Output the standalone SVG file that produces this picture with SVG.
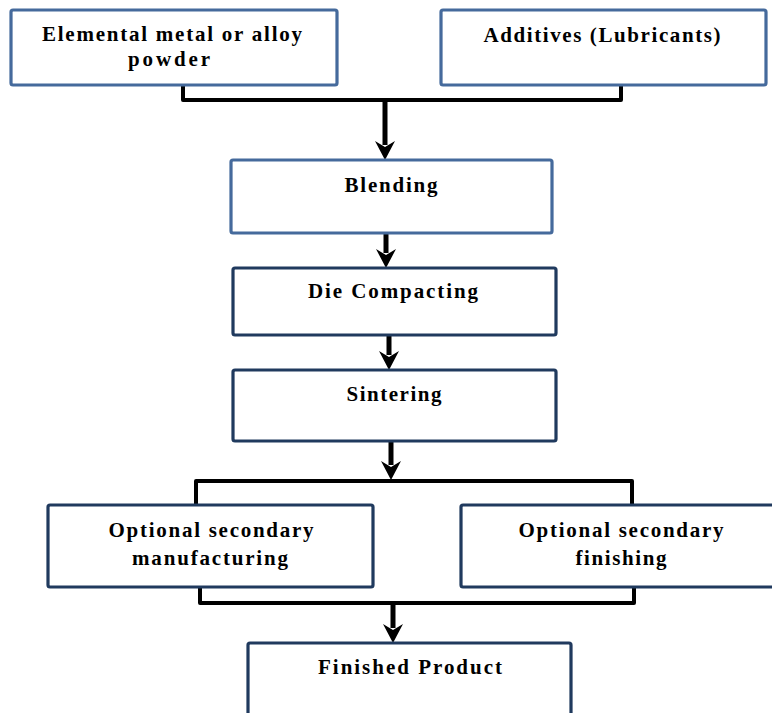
<svg xmlns="http://www.w3.org/2000/svg" width="772" height="713" viewBox="0 0 772 713">
<style>
.box{fill:#fff;stroke-width:3.2;}
.lt{stroke:#456a9c;}
.dk{stroke:#203a5e;}
.t{font-family:"Liberation Serif","Times New Roman",serif;font-weight:bold;font-size:21px;fill:#000;text-anchor:middle;}
.c{fill:none;stroke:#000;stroke-width:4;stroke-linejoin:round;}
.a{fill:none;stroke:#000;stroke-width:5;}
</style>
<rect width="772" height="713" fill="#fff"/>
<g id="connectors">
<path class="c" d="M183,86 V100 H621 V86"/>
<path class="a" d="M385,100 V145"/>
<path d="M375,141 L385,160 L395,141 L385,147 Z" fill="#000"/>
<path class="a" d="M386,234 V253"/>
<path d="M376,249 L386,268 L396,249 L386,255 Z" fill="#000"/>
<path class="a" d="M389,336 V355"/>
<path d="M379,351 L389,370 L399,351 L389,357 Z" fill="#000"/>
<path class="a" d="M391,442 V465"/>
<path d="M381,461 L391,480 L401,461 L391,467 Z" fill="#000"/>
<path class="c" d="M196,505 V481 H632 V505"/>
<path class="c" d="M200,588 V603 H634 V588"/>
<path class="a" d="M393,603 V628"/>
<path d="M383,624 L393,643 L403,624 L393,630 Z" fill="#000"/>
</g>
<g id="node-powder">
<rect class="box lt" x="11" y="10" width="326" height="75" rx="2"/>
<text class="t" font-family="Liberation Serif" x="172" y="41" textLength="260" lengthAdjust="spacing">Elemental metal or alloy</text>
<text class="t" font-family="Liberation Serif" x="169" y="66" textLength="82" lengthAdjust="spacing">powder</text>
</g>
<g id="node-additives">
<rect class="box lt" x="441" y="10" width="325" height="75" rx="2"/>
<text class="t" font-family="Liberation Serif" x="602" y="42" textLength="237" lengthAdjust="spacing">Additives (Lubricants)</text>
</g>
<g id="node-blending">
<rect class="box lt" x="231" y="160" width="321" height="73" rx="2"/>
<text class="t" font-family="Liberation Serif" x="391" y="192" textLength="93" lengthAdjust="spacing">Blending</text>
</g>
<g id="node-compacting">
<rect class="box dk" x="233" y="268" width="323" height="67" rx="2"/>
<text class="t" font-family="Liberation Serif" x="393" y="298" textLength="170" lengthAdjust="spacing">Die Compacting</text>
</g>
<g id="node-sintering">
<rect class="box dk" x="233" y="370" width="323" height="71" rx="2"/>
<text class="t" font-family="Liberation Serif" x="394" y="401" textLength="95" lengthAdjust="spacing">Sintering</text>
</g>
<g id="node-manufacturing">
<rect class="box dk" x="48" y="505" width="325" height="82" rx="2"/>
<text class="t" font-family="Liberation Serif" x="211" y="537" textLength="205" lengthAdjust="spacing">Optional secondary</text>
<text class="t" font-family="Liberation Serif" x="210" y="565" textLength="156" lengthAdjust="spacing">manufacturing</text>
</g>
<g id="node-finishing">
<rect class="box dk" x="461" y="505" width="320" height="82" rx="2"/>
<text class="t" font-family="Liberation Serif" x="621" y="537" textLength="205" lengthAdjust="spacing">Optional secondary</text>
<text class="t" font-family="Liberation Serif" x="621" y="565" textLength="91" lengthAdjust="spacing">finishing</text>
</g>
<g id="node-finished">
<rect class="box dk" x="248" y="643" width="323" height="90" rx="2"/>
<text class="t" font-family="Liberation Serif" x="410" y="674" textLength="184" lengthAdjust="spacing">Finished Product</text>
</g>
</svg>
